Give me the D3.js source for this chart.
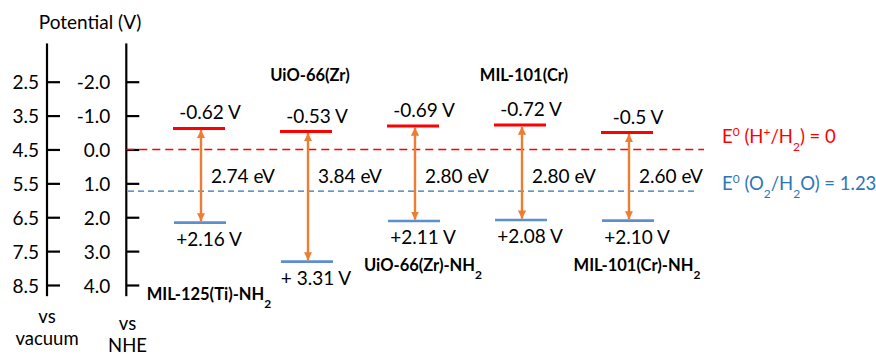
<!DOCTYPE html>
<html>
<head>
<meta charset="utf-8">
<script src="https://cdn.jsdelivr.net/npm/d3@7"></script>
<style>
  html, body { margin: 0; padding: 0; background: #fff; }
  svg { display: block; font-family: Lato, "Open Sans", sans-serif; }
</style>
</head>
<body>
<svg id="chart" width="876" height="356"></svg>
<script>
// Band-edge positions (V vs NHE) of five MOF photocatalysts
const materials = ["MIL-125(Ti)-NH2", "UiO-66(Zr)", "UiO-66(Zr)-NH2", "MIL-101(Cr)", "MIL-101(Cr)-NH2"];
const cbPotential = [-0.62, -0.53, -0.69, -0.72, -0.5];
const vbPotential = [2.16, 3.31, 2.11, 2.08, 2.10];
const bandGap = [2.74, 3.84, 2.80, 2.80, 2.60];
const cbLabels = ["-0.62 V", "-0.53 V", "-0.69 V", "-0.72 V", "-0.5 V"];
const vbLabels = ["+2.16 V", "+ 3.31 V", "+2.11 V", "+2.08 V", "+2.10 V"];
const gapLabels = bandGap.map(d => d.toFixed(2) + " eV");
const nheTicks = [-2, -1, 0, 1, 2, 3, 4];
const vacuumOffset = 4.5;                       // E(vacuum) = E(NHE) + 4.5
const redoxValues = [0, 1.23];                   // H+/H2 and O2/H2O

// layout
const nameRow = ["low", "top", "mid", "top", "mid"];
const colors = { cb: "#ff0000", vb: "#5b8fd0", arrow: "#ed7d31", h2: "#ff0000", o2: "#2e75b6" };

const svg = d3.select("#chart");
const y = d3.scaleLinear().domain([-2, 4]).range([81.7, 285]);
const x = d3.scalePoint().domain(materials).range([199, 627]);
const barHalf = 26;

// ---- potential axes ----
const axisTop = y(-3.13), axisBot = y(4.33);
function drawAxis(ax, labelRight, fmt) {
  const g = svg.append("g").attr("transform", `translate(${ax},0)`);
  g.append("line").attr("y1", axisTop).attr("y2", axisBot)
    .attr("stroke", "#000").attr("stroke-width", 2.2);
  const a = d3.axisRight(y).tickValues(nheTicks).tickSize(13).tickSizeOuter(0).tickFormat(fmt);
  g.call(a);
  g.select(".domain").remove();
  g.selectAll(".tick line").attr("stroke", "#000").attr("stroke-width", 2.2);
  g.selectAll(".tick text")
    .attr("x", -labelRight).attr("dy", "0.38em")
    .attr("text-anchor", "end").attr("fill", "#000")
    .style("font-size", "19px").style("font-family", "Lato, sans-serif");
}
drawAxis(47, 8, d => (d + vacuumOffset).toFixed(1));
drawAxis(126.3, 16, d => d.toFixed(1));

svg.append("text").attr("x", 90).attr("y", 29).attr("text-anchor", "middle")
  .style("font-size", "19px").text("Potential (V)");
const axisNames = [
  { x: 47, lines: ["vs", "vacuum"], y0: 323 },
  { x: 127.5, lines: ["vs", "NHE"], y0: 330 }
];
axisNames.forEach(n => {
  n.lines.forEach((t, i) => svg.append("text").attr("x", n.x).attr("y", n.y0 + i * 21.5)
    .attr("text-anchor", "middle").style("font-size", "18.5px").text(t));
});

// ---- redox reference levels ----
svg.append("line").attr("x1", 126.3).attr("x2", 704)
  .attr("y1", y(redoxValues[0])).attr("y2", y(redoxValues[0]))
  .attr("stroke", colors.h2).attr("stroke-width", 1.6).attr("stroke-dasharray", "8,5");
svg.append("line").attr("x1", 128).attr("x2", 697)
  .attr("y1", y(redoxValues[1])).attr("y2", y(redoxValues[1]))
  .attr("stroke", colors.o2).attr("stroke-width", 1.2).attr("stroke-dasharray", "6,4");

function sup(t, txt) { t.append("tspan").attr("baseline-shift", "super").style("font-size", "12px").text(txt); }
function sub(t, txt) { t.append("tspan").attr("baseline-shift", "sub").style("font-size", "12px").text(txt); }

const lh = svg.append("text").attr("x", 722).attr("y", y(redoxValues[0]) - 6)
  .attr("fill", colors.h2).style("font-size", "18.5px");
lh.append("tspan").text("E"); sup(lh, "0");
lh.append("tspan").text(" (H"); sup(lh, "+");
lh.append("tspan").text("/H"); sub(lh, "2");
lh.append("tspan").text(") = " + redoxValues[0]);

const lo = svg.append("text").attr("x", 722).attr("y", y(redoxValues[1]) - 1)
  .attr("fill", colors.o2).style("font-size", "18.5px");
lo.append("tspan").text("E"); sup(lo, "0");
lo.append("tspan").text(" (O"); sub(lo, "2");
lo.append("tspan").text("/H"); sub(lo, "2");
lo.append("tspan").text("O) = " + redoxValues[1]);

// ---- arrow markers ----
const defs = svg.append("defs");
[["arrEnd", "M0,0 L8,4 L0,8 Z"], ["arrStart", "M8,0 L0,4 L8,8 Z"]].forEach(([id, p]) => {
  defs.append("marker").attr("id", id).attr("viewBox", "0 0 8 8")
    .attr("refX", id === "arrEnd" ? 8 : 0).attr("refY", 4)
    .attr("markerWidth", 3.4).attr("markerHeight", 3.4).attr("markerUnits", "strokeWidth")
    .attr("orient", "auto").append("path").attr("d", p).attr("fill", colors.arrow);
});

// ---- band edges ----
const rows = materials.map((m, i) => ({
  name: m, cb: cbPotential[i], vb: vbPotential[i],
  cbLabel: cbLabels[i], vbLabel: vbLabels[i], gapLabel: gapLabels[i], row: nameRow[i]
}));
const col = svg.selectAll("g.mof").data(rows).join("g").attr("class", "mof");

col.append("line").attr("x1", d => x(d.name) - barHalf).attr("x2", d => x(d.name) + barHalf)
  .attr("y1", d => y(d.cb)).attr("y2", d => y(d.cb))
  .attr("stroke", colors.cb).attr("stroke-width", 3);
col.append("line").attr("x1", d => x(d.name) - barHalf + 1).attr("x2", d => x(d.name) + barHalf + 1)
  .attr("y1", d => y(d.vb)).attr("y2", d => y(d.vb))
  .attr("stroke", colors.vb).attr("stroke-width", 2.6);
col.append("line").attr("x1", d => x(d.name) + 2).attr("x2", d => x(d.name) + 2)
  .attr("y1", d => y(d.cb) + 1.5).attr("y2", d => y(d.vb) - 1.3)
  .attr("stroke", colors.arrow).attr("stroke-width", 2.4)
  .attr("marker-start", "url(#arrStart)").attr("marker-end", "url(#arrEnd)");

col.append("text").attr("x", d => x(d.name) + 11).attr("y", d => y(d.cb) - 9)
  .attr("text-anchor", "middle").style("font-size", "19px").text(d => d.cbLabel);
col.append("text").attr("x", d => x(d.name) + 10).attr("y", d => y(d.vb) + 23)
  .attr("text-anchor", "middle").style("font-size", "19px").text(d => d.vbLabel);
col.append("text").attr("x", d => x(d.name) + 12).attr("y", 183)
  .attr("text-anchor", "start").style("font-size", "19px").text(d => d.gapLabel);

// material names, with NH2 drawn as a subscript
const nameY = { top: 81, mid: 271, low: 300 };
col.each(function (d) {
  const t = d3.select(this).append("text")
    .attr("x", x(d.name) + (d.row === "top" ? 4 : 10)).attr("y", nameY[d.row])
    .attr("text-anchor", "middle").style("font-size", "16.5px").style("font-weight", "bold");
  const m = d.name.match(/^(.*NH)2$/);
  if (m) { t.append("tspan").text(m[1]); t.append("tspan").attr("baseline-shift", "sub").style("font-size", "12px").text("2"); }
  else t.text(d.name);
});
</script>
</body>
</html>
